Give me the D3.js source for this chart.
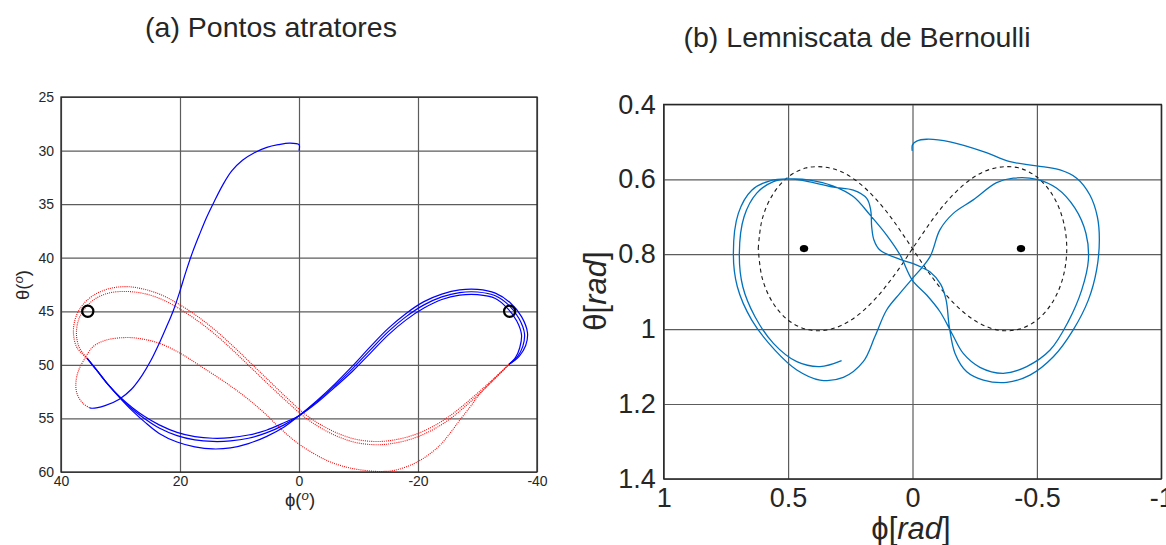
<!DOCTYPE html>
<html>
<head>
<meta charset="utf-8">
<script src="https://cdn.jsdelivr.net/npm/d3@7"></script>
<style>
  body { margin: 0; background: #fff; }
  text { font-family: "Liberation Sans", Arial, Helvetica, sans-serif; fill: #262626; }
</style>
</head>
<body>
<svg id="fig" width="1166" height="545"></svg>
<script>
// ---------- panel (a): angles in degrees [phi, theta] ----------
const aTicksX = [40, 20, 0, -20, -40];
const aTicksY = [25, 30, 35, 40, 45, 50, 55, 60];

// initial transient (blue) from the launch point down to the lower-left
const blueStart = [[0,30.0],[0,29.45],[1.6,29.3],[3.5,29.45],[5.4,29.7],[7.5,30.2],[9.5,30.9],[11.3,31.9],
  [12.8,33.2],[14.2,34.7],[15.5,36.2],[16.7,37.8],[17.9,39.5],[19.0,41.3],[20.0,43.1],[21.1,44.9],[22.3,46.5],
  [23.5,48.0],[24.9,49.6],[26.4,51.0],[28.2,52.3],[30.2,53.2],[32.6,53.8],[34.8,54.05],[35.2,54.0]];

// first return sweep (red) after the transient
const redFirst = [[35.2,54.0],[36.3,53.6],[37.3,52.7],[37.5,51.7],[37.1,50.6],[36.2,49.6],[34.6,48.3],[32.5,47.7],
  [29.0,47.45],[26.2,47.6],[23.4,48.0],[20.0,48.9],[16.6,50.1],[12.2,51.7],[9.0,53.0],[6.0,54.4],[3.2,55.9],
  [0,57.4],[-4.6,58.9],[-8.0,59.55],[-11.0,59.85],[-13.5,59.95],[-16.0,59.85],[-19.2,59.25],[-21.5,58.5],
  [-23.7,57.5],[-25.5,56.3],[-27.1,55.1],[-28.8,53.9],[-30.4,52.7],[-33.0,51.2],[-35.3,49.95]];

// return sweeps (red), right junction -> upper-left lobe -> left junction
const redLoopA = [[-35.3,49.95],[-33,51.15],[-30.5,52.4],[-28,53.6],[-25.5,54.7],[-23,55.6],[-20,56.4],[-17,56.9],
  [-13.6,57.15],[-10,57.0],[-7,56.5],[-4,55.7],[-1,54.6],[2,53.1],[5,51.5],[8,49.9],[11,48.3],[14,46.8],
  [17,45.5],[20,44.4],[23,43.5],[26,42.95],[29,42.7],[32,42.9],[34.5,43.5],[36.5,44.5],[37.6,45.7],[37.9,47.1],
  [37.3,48.4],[35.6,49.4]];
const redLoopB = [[-35.3,49.95],[-33,51.25],[-30.5,52.6],[-28,53.85],[-25.5,55.0],[-23,55.9],[-20,56.7],[-17,57.2],
  [-13.6,57.45],[-10,57.3],[-7,56.8],[-4,56.0],[-1,54.9],[2,53.45],[5,51.9],[8,50.3],[11,48.7],[14,47.2],
  [17,45.9],[20,44.8],[23,43.9],[26,43.35],[29,43.15],[32,43.3],[34.3,43.85],[36.1,44.8],[37.1,45.9],[37.4,47.2],
  [36.9,48.4],[35.6,49.4]];

// power sweeps (blue), left junction -> lower-right lobe -> right junction
const blueLoop1 = [[35.6,49.4],[34,50.5],[32,51.9],[30,53.15],[28,54.3],[26,55.3],[23.5,56.4],[20.5,57.2],
  [17.5,57.65],[14.5,57.85],[11.5,57.75],[8.5,57.35],[5.5,56.7],[2.5,55.8],[0,54.75],[-3,53.35],[-6,51.8],
  [-9,50.1],[-12,48.3],[-15,46.6],[-18,45.2],[-21,44.1],[-24,43.4],[-27,43.0],[-30,42.95],[-33,43.3],
  [-35.5,44.2],[-37.4,45.5],[-38.4,47.0],[-38.1,48.2],[-37.0,49.2],[-35.3,49.95]];
const blueLoop2 = [[35.6,49.4],[34,50.5],[32,51.9],[30,53.1],[28,54.15],[26,55.0],[23.5,55.9],[20.5,56.6],
  [17.5,57.0],[14.5,57.15],[11.5,57.1],[8.5,56.85],[5.5,56.35],[2.5,55.6],[0,54.75],[-3,53.45],[-6,51.95],
  [-9,50.35],[-12,48.6],[-15,46.9],[-18,45.5],[-21,44.4],[-24,43.65],[-27,43.25],[-30,43.2],[-33,43.55],
  [-35.3,44.45],[-37.0,45.7],[-37.9,47.1],[-37.6,48.3],[-36.7,49.25],[-35.3,49.95]];
const blueLoop3 = [[35.6,49.4],[34,50.5],[32,51.9],[30,53.05],[28,54.0],[26,54.8],[23.5,55.6],[20.5,56.3],
  [17.5,56.7],[14.5,56.85],[11.5,56.8],[8.5,56.55],[5.5,56.1],[2.5,55.4],[0,54.75],[-3,53.55],[-6,52.1],
  [-9,50.6],[-12,48.9],[-15,47.2],[-18,45.8],[-21,44.7],[-24,43.9],[-27,43.5],[-30,43.45],[-33,43.8],
  [-35.0,44.7],[-36.6,45.9],[-37.4,47.2],[-37.1,48.4],[-36.4,49.3],[-35.3,49.95]];

// attractor points
const attractorsDeg = [[35.5,45],[-35.4,45]];

// ---------- panel (b): angles in radians [phi, theta] ----------
const bTicksX = [1, 0.5, 0, -0.5, -1];
const bTicksY = [0.4, 0.6, 0.8, 1, 1.2, 1.4];

// reference lemniscate (dashed)
const lemniscate = [[0.620,0.785],[0.604,0.706],[0.561,0.640],[0.500,0.594],[0.430,0.570],[0.359,0.567],
  [0.292,0.578],[0.232,0.601],[0.177,0.632],[0.128,0.667],[0.083,0.705],[0.041,0.745],[0,0.785],
  [-0.041,0.826],[-0.083,0.865],[-0.128,0.903],[-0.177,0.938],[-0.232,0.969],[-0.292,0.992],[-0.359,1.004],
  [-0.430,1.000],[-0.500,0.976],[-0.561,0.930],[-0.604,0.864],[-0.620,0.785],[-0.604,0.706],[-0.561,0.640],
  [-0.500,0.594],[-0.430,0.570],[-0.359,0.567],[-0.292,0.578],[-0.232,0.601],[-0.177,0.632],[-0.128,0.667],
  [-0.083,0.705],[-0.041,0.745],[0,0.785],[0.041,0.826],[0.083,0.865],[0.128,0.903],[0.177,0.938],
  [0.232,0.969],[0.292,0.992],[0.359,1.004],[0.430,1.000],[0.500,0.976],[0.561,0.930],[0.604,0.864],[0.620,0.785]];

// flown trajectory
const flightPath = [[0.001,0.524],[0,0.508],[-0.017,0.498],[-0.057,0.493],[-0.151,0.500],[-0.285,0.526],
  [-0.392,0.553],[-0.499,0.564],[-0.593,0.575],[-0.660,0.597],[-0.713,0.642],[-0.743,0.700],[-0.751,0.762],
  [-0.740,0.842],[-0.707,0.922],[-0.646,1.002],[-0.566,1.074],[-0.472,1.123],[-0.379,1.142],[-0.285,1.136],
  [-0.218,1.114],[-0.171,1.065],[-0.148,0.994],[-0.135,0.922],[-0.113,0.880],[-0.070,0.847],[-0.017,0.829],
  [0.050,0.814],[0.131,0.789],[0.155,0.762],[0.164,0.727],[0.168,0.682],[0.184,0.651],[0.238,0.629],
  [0.318,0.621],[0.399,0.609],[0.492,0.599],[0.573,0.604],[0.646,0.629],[0.700,0.691],[0.720,0.798],
  [0.704,0.887],[0.646,0.976],[0.553,1.056],[0.465,1.109],[0.372,1.136],[0.278,1.129],[0.198,1.087],
  [0.151,1.020],[0.104,0.949],[0.050,0.904],[0.003,0.867],[-0.070,0.807],[-0.110,0.735],[-0.164,0.691],
  [-0.244,0.655],[-0.338,0.609],[-0.405,0.597],[-0.499,0.600],[-0.580,0.624],[-0.653,0.677],[-0.697,0.744],
  [-0.707,0.815],[-0.680,0.896],[-0.626,0.980],[-0.553,1.056],[-0.459,1.100],[-0.365,1.118],[-0.271,1.102],
  [-0.204,1.065],[-0.158,1.011],[-0.110,0.953],[-0.057,0.909],[0.001,0.869],[0.050,0.802],[0.104,0.749],
  [0.171,0.695],[0.238,0.646],[0.318,0.618],[0.412,0.602],[0.492,0.599],[0.559,0.606],[0.626,0.637],
  [0.677,0.700],[0.696,0.798],[0.682,0.887],[0.633,0.967],[0.559,1.038],[0.465,1.087],[0.372,1.100],
  [0.285,1.084]];

// target points
const targetsRad = [[0.436,0.785],[-0.436,0.785]];

// ---------- drawing ----------
const svg = d3.select("#fig");
const fmt = d => String(d);

function panel(cfg) {
  const x = d3.scaleLinear().domain(cfg.xDomain).range(cfg.xRange);
  const y = d3.scaleLinear().domain(cfg.yDomain).range(cfg.yRange);
  const g = svg.append("g");
  const w = cfg.xRange[1] - cfg.xRange[0];
  const h = cfg.yRange[1] - cfg.yRange[0];

  // grid lines come from the axis ticks
  const gx = g.append("g").attr("transform", `translate(0,${cfg.yRange[1]})`)
    .call(d3.axisBottom(x).tickValues(cfg.xTicks).tickSize(-h).tickFormat(fmt).tickPadding(cfg.padX));
  const gy = g.append("g").attr("transform", `translate(${cfg.xRange[0]},0)`)
    .call(d3.axisLeft(y).tickValues(cfg.yTicks).tickSize(-w).tickFormat(fmt).tickPadding(cfg.padY));
  [gx, gy].forEach(a => {
    a.select(".domain").remove();
    a.selectAll(".tick line").attr("stroke", "#5c5c5c").attr("stroke-width", 1.2);
    a.selectAll(".tick text").attr("font-size", cfg.tickSize).attr("fill", "#262626")
      .style("font-family", '"Liberation Sans", Arial, sans-serif');
  });
  return { x, y, g };
}

function box(p, xr, yr) {
  p.g.append("rect").attr("x", xr[0]).attr("y", yr[0]).attr("width", xr[1] - xr[0]).attr("height", yr[1] - yr[0])
    .attr("fill", "none").attr("stroke", "#262626").attr("stroke-width", 1.3);
}

// panel (a)
const aX = [61, 537], aY = [97, 472];
const A = panel({ xDomain: [40, -40], xRange: aX, yDomain: [25, 60], yRange: aY,
  xTicks: aTicksX, yTicks: aTicksY, tickSize: "14px", padX: 4, padY: 7 });
const lineA = d3.line().x(d => A.x(d[0])).y(d => A.y(d[1])).curve(d3.curveCatmullRom.alpha(0.5));

[redFirst, redLoopA, redLoopB].forEach(s => A.g.append("path").attr("d", lineA(s))
  .attr("fill", "none").attr("stroke", "#ff0000").attr("stroke-width", 1.1).attr("stroke-dasharray", "1,1.1"));
[blueStart, blueLoop1, blueLoop2, blueLoop3].forEach(s => A.g.append("path").attr("d", lineA(s))
  .attr("fill", "none").attr("stroke", "#0000ff").attr("stroke-width", 1.2));
A.g.selectAll("circle.att").data(attractorsDeg).join("circle").attr("class", "att")
  .attr("cx", d => A.x(d[0])).attr("cy", d => A.y(d[1])).attr("r", 5.6)
  .attr("fill", "none").attr("stroke", "#000").attr("stroke-width", 2.2);
box(A, aX, aY);

// panel (b)
const bX = [663.7, 1161.3], bY = [104.4, 478.9];
const B = panel({ xDomain: [1, -1], xRange: bX, yDomain: [0.4, 1.4], yRange: bY,
  xTicks: bTicksX, yTicks: bTicksY, tickSize: "27px", padX: 9, padY: 8 });
const lineB = d3.line().x(d => B.x(d[0])).y(d => B.y(d[1])).curve(d3.curveCatmullRom.alpha(0.5));

B.g.append("path").attr("d", lineB(lemniscate)).attr("fill", "none")
  .attr("stroke", "#1a1a1a").attr("stroke-width", 1.1).attr("stroke-dasharray", "4,3.5");
B.g.append("path").attr("d", lineB(flightPath)).attr("fill", "none")
  .attr("stroke", "#0072bd").attr("stroke-width", 1.3);
B.g.selectAll("ellipse.tgt").data(targetsRad).join("ellipse").attr("class", "tgt")
  .attr("cx", d => B.x(d[0])).attr("cy", d => B.y(d[1])).attr("rx", 4.2).attr("ry", 3.6).attr("fill", "#000");
box(B, bX, bY);

// titles and axis labels
svg.append("text").attr("x", 271).attr("y", 37).attr("text-anchor", "middle")
  .attr("font-size", "28.5px").text("(a) Pontos atratores");
svg.append("text").attr("x", 857).attr("y", 47).attr("text-anchor", "middle")
  .attr("font-size", "28.5px").text("(b) Lemniscata de Bernoulli");

function degLabel(sel, sym) {
  sel.append("tspan").text(sym + "(");
  sel.append("tspan").attr("font-style", "italic").attr("font-size", "0.72em").attr("dy", "-0.45em").text("o");
  sel.append("tspan").attr("dy", "0.32em").text(")");
}
degLabel(svg.append("text").attr("font-size", "18.5px").attr("text-anchor", "middle")
  .attr("transform", "translate(29,285) rotate(-90)"), "θ");
degLabel(svg.append("text").attr("font-size", "18.5px").attr("text-anchor", "middle")
  .attr("x", 300).attr("y", 506), "ϕ");

function radLabel(sel, sym) {
  sel.append("tspan").text(sym + "[");
  sel.append("tspan").attr("font-style", "italic").text("rad");
  sel.append("tspan").text("]");
}
radLabel(svg.append("text").attr("font-size", "31px").attr("text-anchor", "middle")
  .attr("transform", "translate(606,291) rotate(-90)"), "θ");
radLabel(svg.append("text").attr("font-size", "31px").attr("text-anchor", "middle")
  .attr("x", 911).attr("y", 539), "ϕ");
</script>
</body>
</html>
